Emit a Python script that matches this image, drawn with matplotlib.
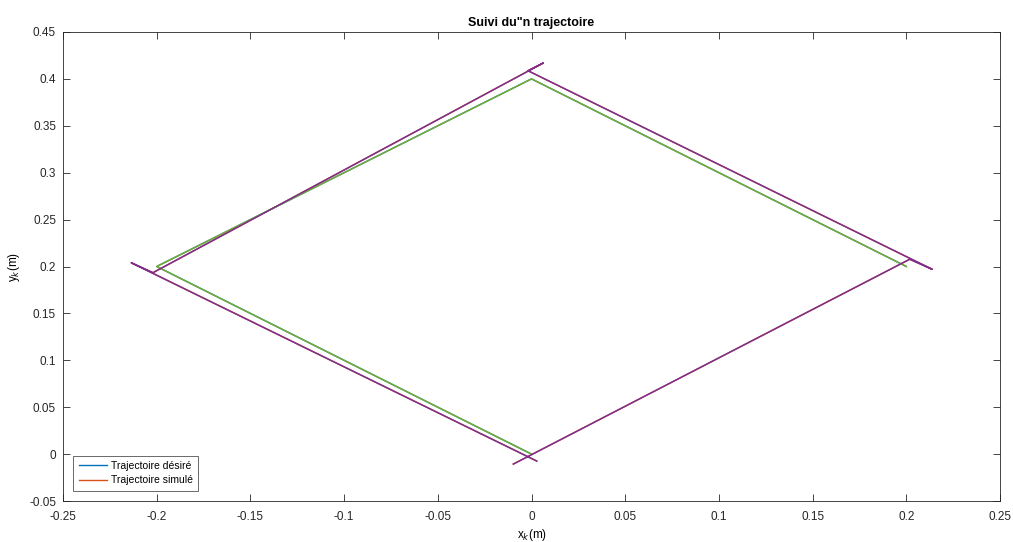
import matplotlib
matplotlib.use("Agg")
import matplotlib.pyplot as plt

# Desired path: losange parcouru depuis l'origine
x_des = [0.0, -0.2, 0.0, 0.2]
y_des = [0.0, 0.2, 0.4, 0.2]

# Simulated path (points read at the corners, with overshoots)
x_sim = [0.0028, -0.2136, -0.2020, 0.0063, -0.0019, 0.2138, 0.2018, -0.0097]
y_sim = [-0.0074, 0.2040, 0.1934, 0.4170, 0.4087, 0.1970, 0.2077, -0.0106]

xticks = [-0.25, -0.2, -0.15, -0.1, -0.05, 0, 0.05, 0.1, 0.15, 0.2, 0.25]
yticks = [-0.05, 0, 0.05, 0.1, 0.15, 0.2, 0.25, 0.3, 0.35, 0.4, 0.45]

plt.rcParams['font.family'] = ['Liberation Sans', 'DejaVu Sans']

fig = plt.figure(figsize=(10.13, 5.42), dpi=100)
ax = fig.add_axes([0.0622, 0.0756, 0.925, 0.8654])

# MATLAB colour order
blue = (0.0, 0.447, 0.741)
orange = (0.850, 0.325, 0.098)
purple = (0.494, 0.184, 0.556)
green = (0.466, 0.674, 0.188)

ax.plot(x_des, y_des, color=blue, lw=1.0, label='Trajectoire désiré')
ax.plot(x_sim, y_sim, color=orange, lw=1.0, label='Trajectoire simulé')
ax.plot(x_des, y_des, color=green, lw=1.1)
ax.plot(x_sim, y_sim, color=purple, lw=1.1)

ax.set_xlim(-0.25, 0.25)
ax.set_ylim(-0.05, 0.45)
ax.set_xticks(xticks)
ax.set_yticks(yticks)
ax.set_xticklabels([f"{v:g}" for v in xticks])
ax.set_yticklabels([f"{v:g}" for v in yticks])
ax.tick_params(direction='in', top=True, right=True, length=5, width=0.6,
               labelsize=8.5, colors=(0.15, 0.15, 0.15))
ax.tick_params(axis='x', pad=7)
ax.tick_params(axis='y', pad=5)
for s in ax.spines.values():
    s.set_linewidth(0.6)
    s.set_color((0.15, 0.15, 0.15))

ax.set_xlabel('x$_k$(m)', fontsize=8.5, labelpad=3)
ax.set_ylabel('y$_k$(m)', fontsize=8.5, labelpad=5)
ax.set_title('Suivi du"n trajectoire', fontsize=9, fontweight='bold', pad=4)

leg = ax.legend(loc='lower left', fontsize=7.5, frameon=True, fancybox=False,
                borderaxespad=1.0, handlelength=2.7, borderpad=0.5,
                labelspacing=0.45, handletextpad=0.4)
leg.get_frame().set_edgecolor((0.15, 0.15, 0.15))
leg.get_frame().set_linewidth(0.6)

fig.savefig('out.png', dpi=100)
